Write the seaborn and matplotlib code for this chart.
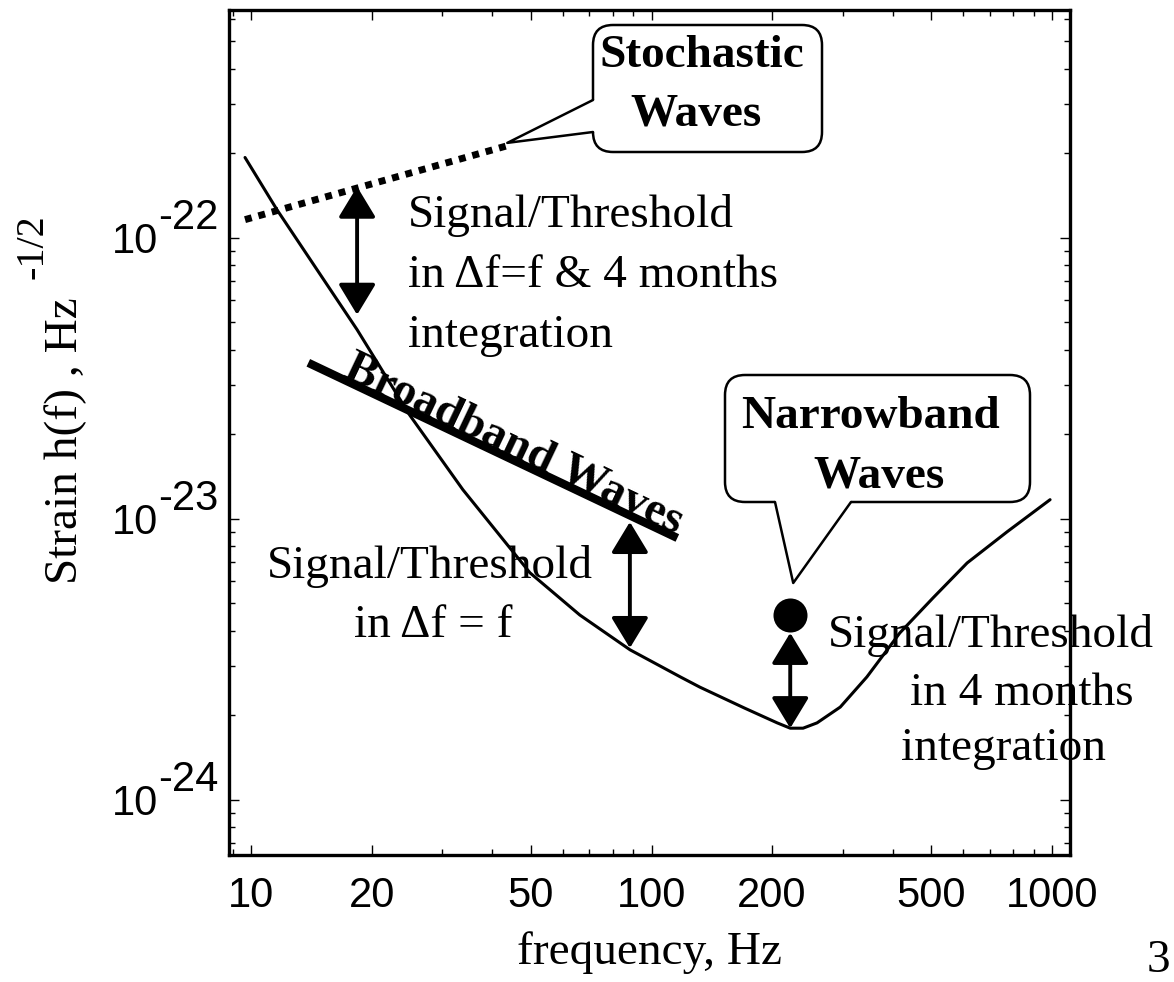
import numpy as np
import pandas as pd
import matplotlib
matplotlib.use("Agg")
import matplotlib.pyplot as plt
import seaborn as sns
from matplotlib import font_manager
from matplotlib.patches import FancyBboxPatch, Polygon
from matplotlib.lines import Line2D
from matplotlib.ticker import NullFormatter
from matplotlib.transforms import Affine2D

# detector noise curve
noise_freq = [9.66, 11.6, 18.4, 24.9, 33.8, 49.7, 66.2, 88.4, 118, 132, 171,
              206, 222, 239, 259, 296, 345, 417, 505, 614, 773, 989]
noise_strain = [1.93e-22, 1.26e-22, 4.71e-23, 2.34e-23, 1.27e-23, 6.43e-24,
                4.55e-24, 3.42e-24, 2.74e-24, 2.52e-24, 2.12e-24, 1.88e-24,
                1.80e-24, 1.80e-24, 1.88e-24, 2.14e-24, 2.74e-24, 3.93e-24,
                5.24e-24, 6.97e-24, 9.0e-24, 1.17e-23]

# stochastic background (dotted)
stoch_freq = [9.66, 44.4]
stoch_strain = [1.16e-22, 2.14e-22]

# broadband source level
broad_freq = [13.9, 116]
broad_strain = [3.59e-23, 8.55e-24]

# narrowband source
narrow_freq = [222]
narrow_strain = [4.55e-24]

# signal/threshold arrows
arrow_freq = [18.4, 88.3, 222]
arrow_top = [1.52e-22, 9.75e-24, 3.93e-24]
arrow_bottom = [5.32e-23, 3.47e-24, 1.80e-24]

xtick_vals = [10, 20, 50, 100, 200, 500, 1000]
xtick_labels = ["10", "20", "50", "100", "200", "500", "1000"]
ytick_vals = [1e-24, 1e-23, 1e-22]
ytick_exps = ["-24", "-23", "-22"]

W, H = 1174, 982
# pixel coords with origin at top-left of the image
px = Affine2D().scale(1, -1).translate(0, H)

SERIF = "Liberation Serif"
names = set(f.name for f in font_manager.fontManager.ttflist)
SANS = "Liberation Sans Narrow" if "Liberation Sans Narrow" in names else "Liberation Sans"
tick_fs = 33 if "Narrow" in SANS else 30

sns.set_style("ticks")
plt.rcParams["font.family"] = [SERIF, "DejaVu Serif"]
plt.rcParams.update({"text.color": "black", "axes.labelcolor": "black",
                     "xtick.color": "black", "ytick.color": "black",
                     "axes.edgecolor": "black"})

fig = plt.figure(figsize=(W / 100, H / 100), dpi=100)
ax = fig.add_axes([229 / W, 1 - 855 / H, 841 / W, 845 / H])
ax.set_xscale("log")
ax.set_yscale("log")
ax.set_xlim(8.81, 1109)
ax.set_ylim(6.37e-25, 6.46e-22)

sns.lineplot(x=noise_freq, y=noise_strain, sort=False, estimator=None,
             color="black", lw=2.2, ax=ax)
sns.lineplot(x=stoch_freq, y=stoch_strain, sort=False, estimator=None,
             color="black", lw=5, linestyle=(0, (1, 1)), ax=ax)
sns.lineplot(x=broad_freq, y=broad_strain, sort=False, estimator=None,
             color="black", lw=6, solid_capstyle="butt", ax=ax)
sns.scatterplot(x=narrow_freq, y=narrow_strain, s=600, color="black",
                edgecolor="black", linewidth=0, zorder=5, ax=ax)

for f, top, bot in zip(arrow_freq, arrow_top, arrow_bottom):
    ax.annotate("", xy=(f, bot), xytext=(f, top),
                arrowprops=dict(arrowstyle="<|-|>,head_length=1.9,head_width=1.15",
                                mutation_scale=10, lw=2.8, color="black",
                                shrinkA=0, shrinkB=0))

# axes styling
ax.set_xticks(xtick_vals, labels=xtick_labels)
ax.set_yticks(ytick_vals, labels=["10"] * len(ytick_vals))
ax.xaxis.set_minor_formatter(NullFormatter())
ax.yaxis.set_minor_formatter(NullFormatter())
ax.tick_params(which="both", direction="in", top=True, right=True, width=1,
               color="black", labelcolor="black", labelfontfamily=SANS,
               labelsize=tick_fs)
ax.tick_params(which="major", length=7)
ax.tick_params(which="minor", length=4)
ax.tick_params(axis="y", pad=51)
ax.tick_params(axis="x", pad=15)
for s in ax.spines.values():
    s.set_linewidth(2.4)
    s.set_color("black")

for val, exp in zip(ytick_vals, ytick_exps):
    ax.annotate(exp, xy=(0, val), xycoords=("axes fraction", "data"),
                xytext=(-11, 20), textcoords="offset pixels", ha="right",
                va="center", fontsize=tick_fs, family=SANS, color="black")

ax.set_xlabel("frequency, Hz", fontsize=34)
ax.xaxis.set_label_coords(0.5, -0.090)
ax.set_ylabel("Strain h(f) , Hz", fontsize=34, ha="right", va="baseline")
ax.yaxis.set_label_coords((77 - 229) / 841, (855 - 297) / 845)
fig.text(43, 214, "-1/2", transform=px, rotation=90, rotation_mode="anchor",
         ha="right", va="baseline", fontsize=29)

# broadband label along its line
p0 = ax.transData.transform((broad_freq[0], broad_strain[0]))
p1 = ax.transData.transform((broad_freq[1], broad_strain[1]))
ang = np.degrees(np.arctan2(p1[1] - p0[1], p1[0] - p0[0]))
mid = (np.sqrt(broad_freq[0] * broad_freq[1]), np.sqrt(broad_strain[0] * broad_strain[1]))
ax.annotate("Broadband Waves", xy=mid, xytext=(16, -4), textcoords="offset pixels",
            rotation=ang, rotation_mode="anchor", ha="center", va="baseline",
            fontsize=34, fontweight="bold")


def to_px(f, h):
    d = ax.transData.transform((f, h))
    return d[0], H - d[1]


def callout(lines, box, attach, tip, inward):
    x0, y0, x1, y1 = box
    fig.add_artist(FancyBboxPatch((x0, y0), x1 - x0, y1 - y0,
                                  boxstyle="round,pad=0,rounding_size=20",
                                  transform=px, fc="white", ec="black", lw=1.8,
                                  zorder=6, clip_on=False))
    a1, a2 = attach
    a1i = (a1[0] + inward[0], a1[1] + inward[1])
    a2i = (a2[0] + inward[0], a2[1] + inward[1])
    fig.add_artist(Polygon([a1i, a1, tip, a2, a2i], closed=True, transform=px,
                           fc="white", ec="none", zorder=7))
    fig.add_artist(Line2D([a1[0], tip[0], a2[0]], [a1[1], tip[1], a2[1]],
                          transform=px, color="black", lw=1.8, zorder=8))
    for (tx, ty, s) in lines:
        fig.text(tx, ty, s, transform=px, ha="center", va="baseline",
                 fontsize=34, fontweight="bold", zorder=9)


sx, sy = to_px(stoch_freq[1], stoch_strain[1])
callout([(702, 67, "Stochastic"), (696, 125, "Waves")],
        (593, 25, 822, 152), [(593, 100), (593, 132)], (sx - 3, sy - 2), (5, 0))

nx, ny = to_px(narrow_freq[0], narrow_strain[0])
callout([(871, 428, "Narrowband"), (879, 487, "Waves")],
        (725, 375, 1030, 502), [(775, 502), (851, 502)], (nx + 3, ny - 32), (0, -5))

# annotation texts
for y, s in [(227, "Signal/Threshold"), (287, "in \u0394f=f & 4 months"), (347, "integration")]:
    fig.text(408, y, s, transform=px, ha="left", va="baseline", fontsize=34)
for x, y, s in [(430, 578, "Signal/Threshold"), (433, 637, "in \u0394f = f")]:
    fig.text(x, y, s, transform=px, ha="center", va="baseline", fontsize=34)
for x, y, s in [(991, 647, "Signal/Threshold"), (1022, 705, "in 4 months"), (1003, 760, "integration")]:
    fig.text(x, y, s, transform=px, ha="center", va="baseline", fontsize=34)

# page number at the lower right corner
fig.text(1147, 972, "3", transform=px, ha="left", va="baseline", fontsize=34)

fig.savefig("out.png", dpi=100)
